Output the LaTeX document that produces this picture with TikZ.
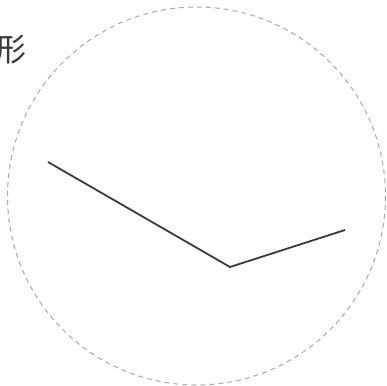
\documentclass[tikz,border=0pt]{standalone}
\usepackage{fontspec}
\newfontfamily\cjk{Noto Sans CJK SC}
\definecolor{ink}{HTML}{3A3A3A}
\definecolor{guide}{HTML}{AAAAAA}
\tikzset{
  guidecircle/.style={draw=guide, line width=1pt, dash pattern=on 5pt off 4pt},
  polyline/.style={draw=ink, line width=1.8pt},
  label/.style={font=\cjk\fontsize{32}{32}\selectfont, text=ink, inner sep=0pt, anchor=east}
}
\begin{document}
\begin{tikzpicture}[x=1pt,y=-1pt]
\useasboundingbox (0,0) rectangle (387,385);
\draw[guidecircle] (196.5,196) circle[radius=189];
\coordinate (p1) at (48,162);
\coordinate (p2) at (230,267);
\coordinate (p3) at (345,230);
\draw[polyline] (p1) -- (p2) -- (p3);
\node[label] (t) at (27,50) {形};
\end{tikzpicture}
\end{document}
